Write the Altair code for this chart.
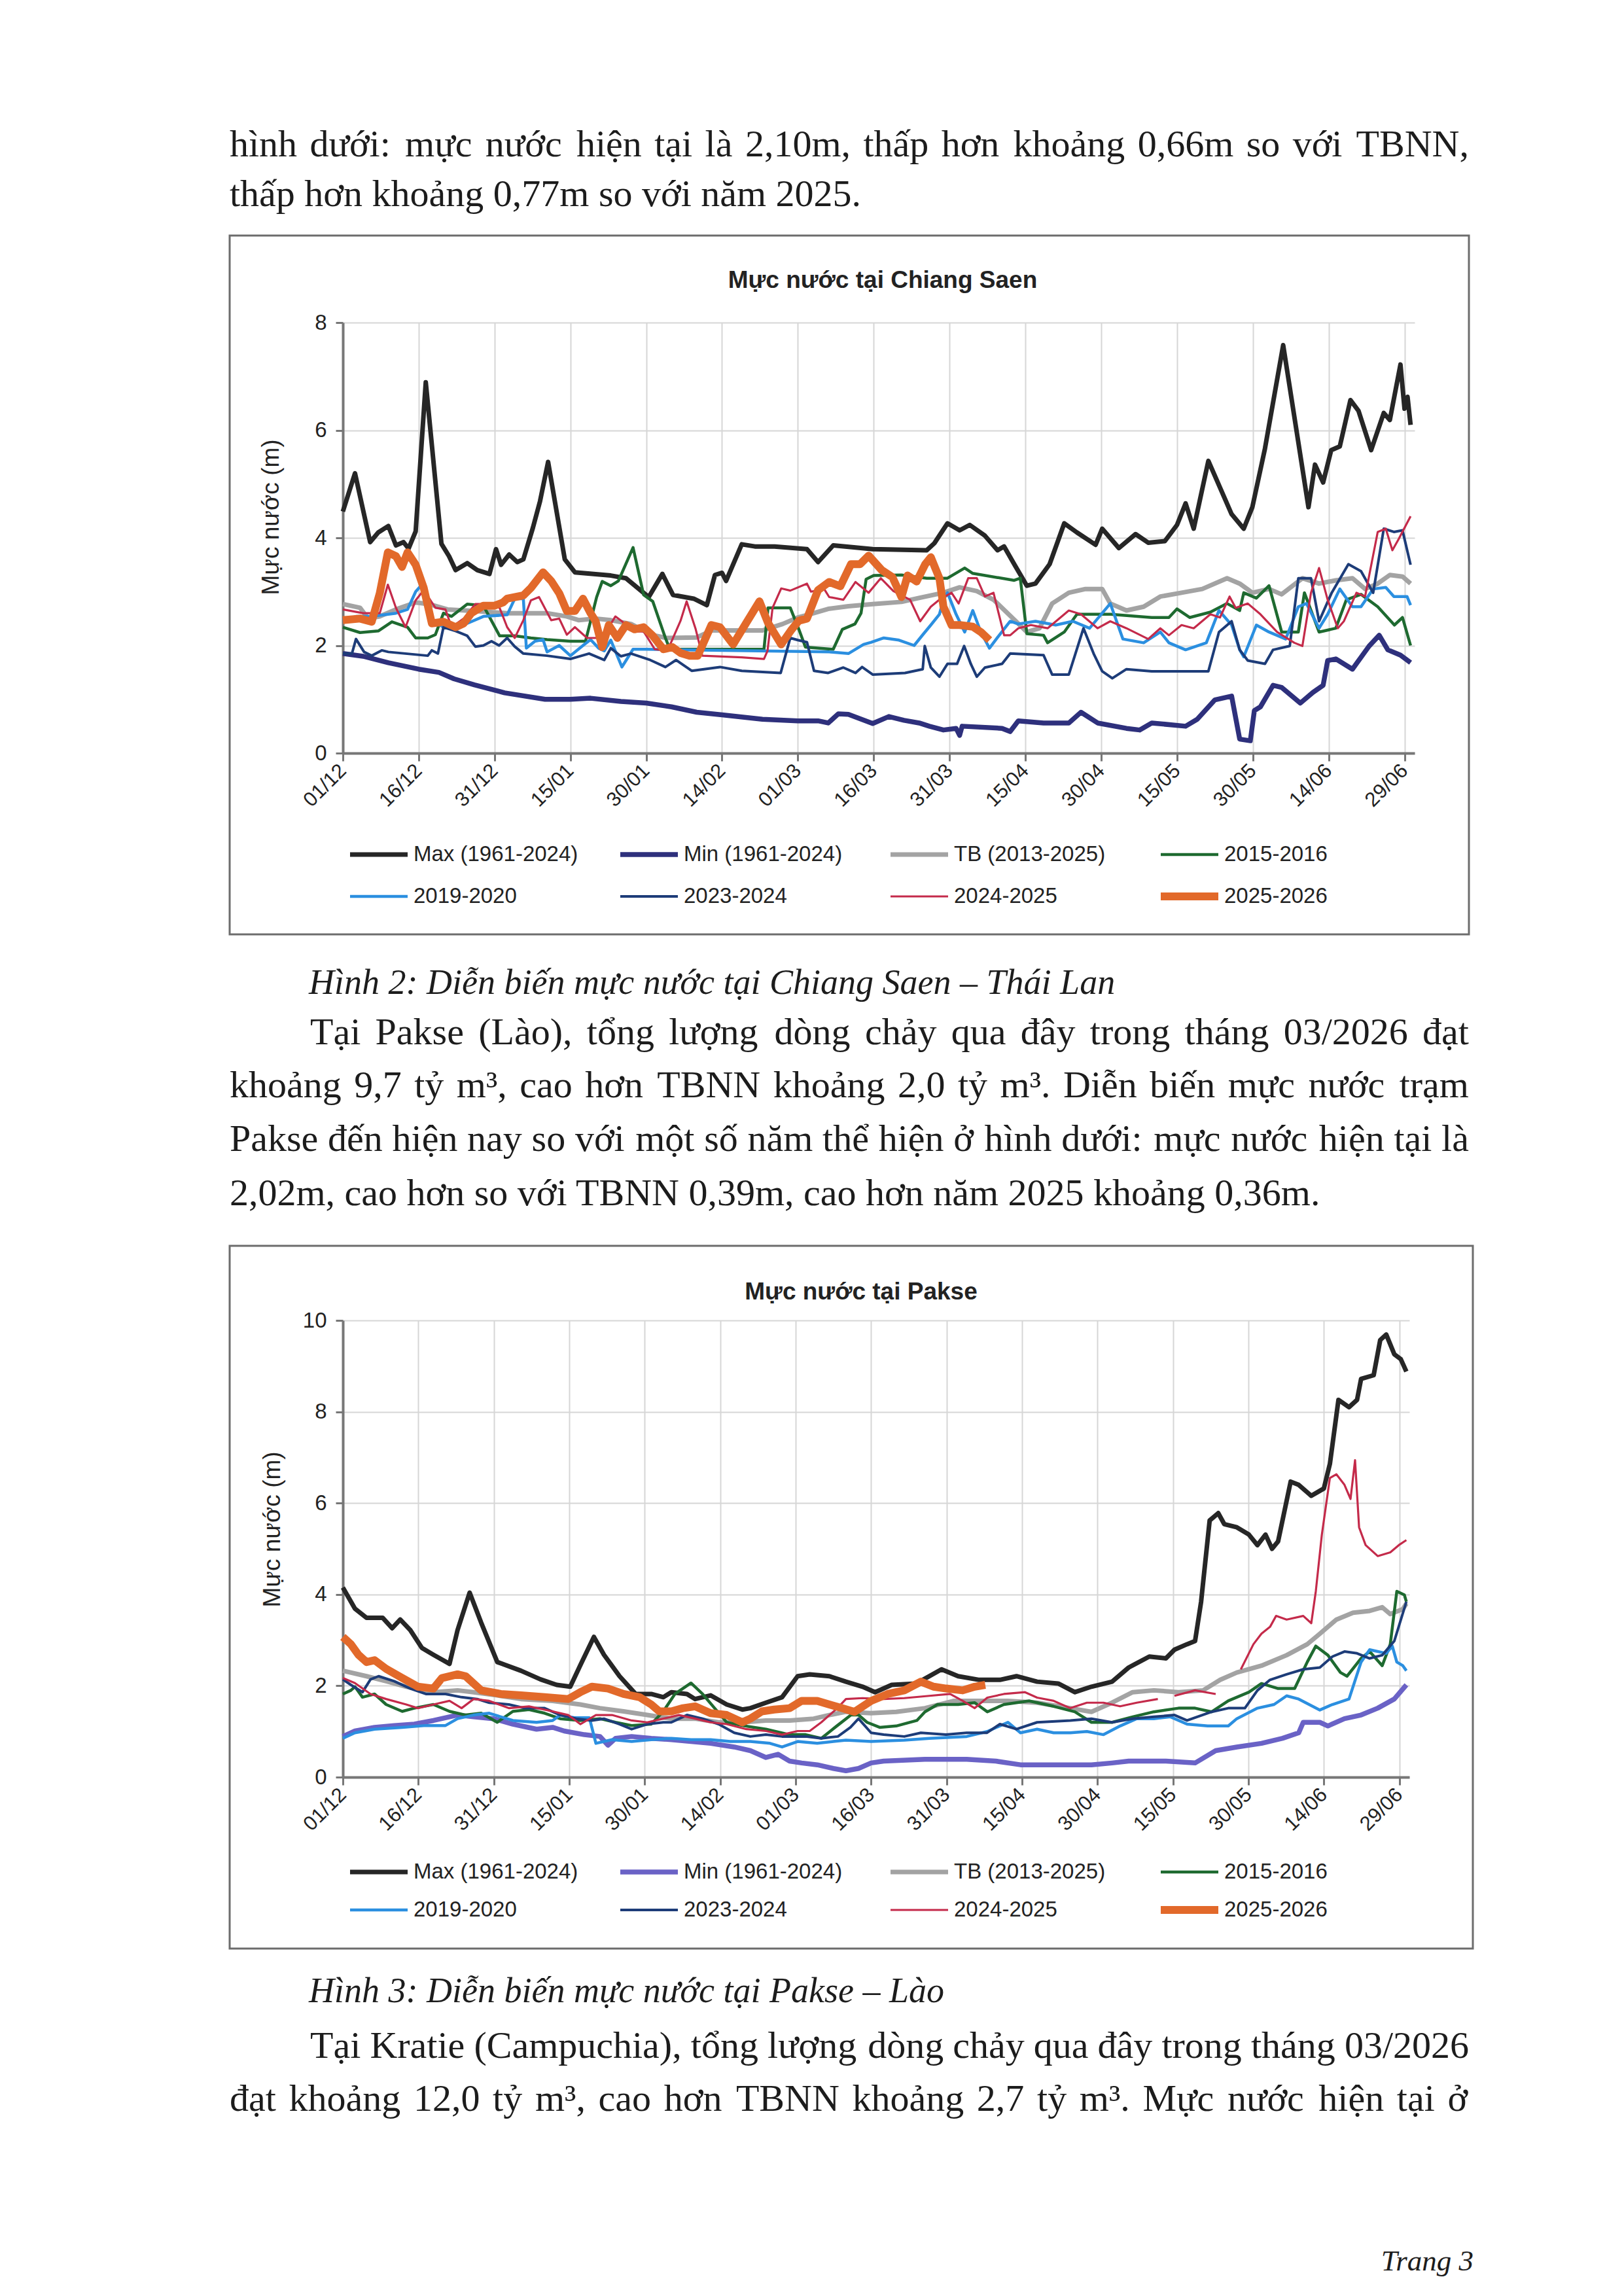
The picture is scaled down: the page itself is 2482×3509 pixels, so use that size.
import unicodedata
import pandas as pd
import altair as alt

# ---------------------------------------------------------------- data
X_TICKS = [0, 15, 30, 45, 60, 75, 90, 105, 120, 135, 150, 165, 180, 195, 210]
X_LABELS = ["01/12", "16/12", "31/12", "15/01", "30/01", "14/02", "01/03", "16/03",
            "31/03", "15/04", "30/04", "15/05", "30/05", "14/06", "29/06"]
SERIES = ["Max (1961-2024)", "Min (1961-2024)", "TB (2013-2025)", "2015-2016",
          "2019-2020", "2023-2024", "2024-2025", "2025-2026"]

# Chiang Saen: (day since 01/12, water level m)
CS_MAX = [(0, 4.49), (2.4, 5.2), (5.4, 3.92), (7, 4.1), (9, 4.22), (10.5, 3.86), (12, 3.92), (13, 3.8),
          (14.4, 4.12), (16.4, 6.89), (19.5, 3.89), (21, 3.66), (22.3, 3.4), (24.6, 3.53), (26.6, 3.4),
          (29, 3.33), (30.3, 3.79), (31.3, 3.5), (32.9, 3.69), (34.5, 3.55), (35.7, 3.6), (37.6, 4.19),
          (39, 4.68), (40.6, 5.41), (43.9, 3.6), (45.9, 3.36), (53, 3.3), (56, 3.25), (60.5, 2.9),
          (63.2, 3.33), (65.3, 2.94), (69.4, 2.87), (72, 2.75), (73.6, 3.31), (75, 3.35), (75.8, 3.2),
          (78.9, 3.88), (81.5, 3.84), (85.4, 3.84), (91.8, 3.79), (94, 3.55), (97, 3.86), (104.8, 3.79),
          (115.5, 3.77), (117, 3.9), (119.6, 4.27), (122, 4.14), (124, 4.24), (127, 4.04), (129.5, 3.77),
          (130.8, 3.84), (132.8, 3.51), (135.3, 3.11), (137, 3.15), (139.8, 3.51), (142.7, 4.27),
          (145.2, 4.1), (148.9, 3.87), (150.2, 4.17), (153.5, 3.81), (156.8, 4.07), (159.3, 3.91),
          (162.6, 3.94), (165, 4.24), (166.7, 4.64), (168.3, 4.17), (171.2, 5.43), (175.8, 4.44),
          (178.2, 4.17), (179.9, 4.57), (182.4, 5.66), (186, 7.58), (191, 4.57), (192.3, 5.36),
          (193.9, 5.03), (195.5, 5.63), (197.2, 5.7), (199.3, 6.56), (200.9, 6.36), (203.4, 5.63),
          (205.9, 6.32), (207.1, 6.19), (209.2, 7.22), (210, 6.4), (210.6, 6.62), (211.2, 6.1)]
CS_MIN = [(0, 1.85), (4, 1.8), (9, 1.68), (15, 1.56), (19, 1.5), (22, 1.38), (26, 1.27), (32, 1.12),
          (40, 1.0), (45, 1.0), (49, 1.02), (55, 0.96), (60, 0.93), (65, 0.86), (70, 0.76), (75, 0.71),
          (83, 0.63), (90, 0.6), (94, 0.6), (96, 0.56), (98, 0.73), (100, 0.72), (104.8, 0.55),
          (108, 0.68), (111, 0.61), (114, 0.56), (116, 0.5), (118.8, 0.43), (121.3, 0.46), (122, 0.33),
          (122.5, 0.5), (130.4, 0.46), (132, 0.4), (133.6, 0.6), (138.6, 0.56), (143.6, 0.56),
          (146, 0.76), (149.3, 0.56), (155, 0.46), (157.6, 0.43), (160, 0.56), (166.7, 0.5),
          (169, 0.63), (172.5, 0.99), (175.8, 1.06), (176.6, 0.66), (177.4, 0.26), (179.5, 0.23),
          (180.3, 0.79), (181.5, 0.86), (184, 1.26), (185.7, 1.22), (189.4, 0.93), (191.9, 1.13),
          (193.9, 1.26), (194.8, 1.72), (196.4, 1.75), (199.7, 1.56), (203, 1.99), (205, 2.19),
          (206.7, 1.92), (209.2, 1.82), (211.2, 1.68)]
CS_TB = [(0, 2.77), (3.4, 2.7), (5, 2.5), (7.3, 2.54), (10.5, 2.67), (14.4, 2.8), (17, 2.77),
         (20.7, 2.67), (26, 2.64), (32.5, 2.6), (40.4, 2.6), (44.3, 2.54), (46.7, 2.47), (50, 2.5),
         (53, 2.47), (57, 2.4), (61, 2.2), (64, 2.14), (70, 2.15), (73, 2.28), (83, 2.28), (87, 2.4),
         (90, 2.52), (92, 2.57), (96, 2.68), (100, 2.73), (104.8, 2.77), (110.5, 2.81), (113.8, 2.88),
         (118.8, 2.98), (122, 3.08), (125.4, 3.01), (128.7, 2.85), (132.8, 2.48), (135.3, 2.25),
         (137.8, 2.32), (140.3, 2.78), (143.6, 2.98), (146.9, 3.05), (150.2, 3.05), (151.8, 2.78),
         (155, 2.65), (158.4, 2.72), (161.7, 2.91), (165.9, 2.98), (170, 3.05), (174.9, 3.25),
         (177.4, 3.15), (179.9, 2.98), (183.2, 3.05), (185.7, 2.95), (189.8, 3.25), (193.1, 3.15),
         (196.4, 3.21), (199.7, 3.25), (202.2, 3.05), (204.7, 3.15), (207.1, 3.31), (209.6, 3.28),
         (211.2, 3.15)]
CS_1516 = [(0, 2.34), (3.4, 2.24), (7, 2.27), (9.7, 2.44), (12.8, 2.34), (14.4, 2.14), (16.8, 2.14),
           (18.3, 2.2), (19.9, 2.6), (21.5, 2.54), (24.6, 2.77), (27.8, 2.74), (31, 2.18), (34, 2.18),
           (37.2, 2.14), (40.4, 2.11), (45, 2.08), (48, 2.08), (50.2, 2.9), (51.3, 3.19), (53, 3.11),
           (54.5, 3.2), (57.4, 3.82), (59.5, 2.94), (61.3, 2.82), (63.8, 2.14), (64.7, 1.93), (70, 1.93),
           (83.3, 1.93), (84.1, 2.7), (88.5, 2.7), (90.2, 2.3), (91.5, 1.97), (97, 1.93), (98.8, 2.3),
           (101.3, 2.4), (102.5, 2.6), (103.5, 3.23), (105, 3.3), (110.5, 3.31), (115.5, 3.25),
           (119.6, 3.25), (123, 3.44), (124.6, 3.34), (132.8, 3.21), (134, 3.25), (135.3, 2.22),
           (138.6, 2.19), (139.4, 2.05), (142.7, 2.25), (145.2, 2.58), (151.8, 2.58), (160, 2.52),
           (163.4, 2.52), (165, 2.68), (167.5, 2.52), (171.6, 2.62), (174.9, 2.78), (177.4, 2.65),
           (178.2, 2.98), (180.7, 2.88), (183.2, 3.11), (185.7, 2.25), (189, 2.25), (190.2, 2.98),
           (193.1, 2.25), (196.4, 2.32), (198.5, 2.85), (201.4, 2.95), (204.7, 2.72), (208, 2.38),
           (209.6, 2.52), (211.2, 2.0)]
CS_1920 = [(0, 2.47), (2.6, 2.54), (5.7, 2.54), (10.5, 2.6), (12.8, 2.67), (14.4, 3.0), (16, 3.17),
           (17.6, 2.47), (19.9, 2.34), (24.6, 2.41), (27.8, 2.54), (32.5, 2.57), (34, 2.87), (35.7, 2.87),
           (36.3, 1.95), (38, 2.08), (39.6, 2.11), (40.4, 1.88), (42.8, 2.0), (45, 1.81), (47.5, 2.0),
           (49, 2.11), (50.6, 1.95), (51.7, 1.9), (53, 2.1), (55.2, 1.6), (57.4, 1.93), (60, 1.93),
           (96.2, 1.88), (100, 1.85), (103, 2.02), (104.5, 2.06), (107, 2.14), (110, 2.1), (113, 2.0),
           (114.8, 2.21), (116.3, 2.38), (118, 2.58), (118.8, 2.85), (119.6, 2.98), (121.3, 2.58),
           (123, 2.25), (124.6, 2.65), (126.2, 2.25), (127.9, 1.95), (129.5, 2.15), (132, 2.45),
           (133.6, 2.4), (137, 2.45), (141, 2.38), (144.4, 2.45), (147.7, 2.32), (151.8, 2.78),
           (154.3, 2.12), (158.4, 2.05), (161.7, 2.25), (163.4, 2.05), (166.7, 1.92), (170.8, 2.05),
           (173.3, 2.65), (175.8, 2.38), (177.4, 1.92), (178.2, 1.79), (180.7, 2.38), (183.2, 2.25),
           (186.5, 2.12), (189, 2.72), (190.6, 2.78), (193.1, 2.32), (194.8, 2.58), (197.2, 3.05),
           (199.7, 2.72), (201.4, 2.72), (203.8, 3.05), (206.3, 3.08), (207.9, 2.91), (210.5, 2.91),
           (211.2, 2.75)]
CS_2324 = [(0, 1.85), (1.8, 1.85), (2.6, 2.12), (4.2, 1.88), (5.7, 1.81), (7.7, 1.91), (9, 1.88),
           (16.8, 1.81), (17.6, 1.91), (18.8, 1.85), (19.9, 2.34), (22.3, 2.27), (24.6, 2.18),
           (26.2, 1.98), (27.8, 2.0), (29.4, 2.08), (30.9, 2.0), (32.5, 2.14), (34, 1.98), (35.7, 1.85),
           (40.4, 1.81), (45, 1.75), (48.7, 1.85), (51.7, 1.73), (53, 1.95), (55, 1.8), (57, 1.85),
           (60.8, 1.73), (63.8, 1.6), (65.9, 1.73), (69, 1.53), (74.6, 1.6), (78.9, 1.53), (86.6, 1.49),
           (88.5, 2.14), (90, 2.1), (91.8, 2.06), (93.2, 1.53), (96, 1.49), (99, 1.59), (101.4, 1.49),
           (102.7, 1.6), (104.8, 1.46), (111.2, 1.49), (114.7, 1.56), (115.1, 1.99), (116.3, 1.59),
           (118, 1.42), (119.6, 1.66), (121.5, 1.66), (122.9, 1.99), (124.2, 1.66), (125.4, 1.42),
           (127, 1.59), (130.4, 1.66), (132, 1.85), (138.6, 1.82), (140.3, 1.46), (143.6, 1.46),
           (146.5, 2.32), (148.5, 1.85), (150.2, 1.52), (152.2, 1.39), (155, 1.56), (160, 1.52),
           (171.2, 1.52), (173.3, 2.25), (175.8, 2.45), (177.4, 1.92), (179, 1.72), (182.4, 1.66),
           (184, 1.92), (187.3, 1.99), (189, 3.25), (191.5, 3.25), (193.1, 2.45), (195.6, 2.98),
           (198.9, 3.51), (201.4, 3.38), (203.8, 2.98), (205.9, 4.17), (207.9, 4.11), (209.6, 4.14),
           (211.2, 3.5)]
CS_2425 = [(0, 2.67), (4, 2.6), (7.3, 2.6), (8.9, 3.13), (10.5, 2.7), (12.4, 2.34), (14.4, 2.84),
           (16, 3.03), (18.3, 2.7), (20.3, 2.67), (21.5, 2.34), (23.9, 2.5), (26.2, 2.77), (28.6, 2.77),
           (31, 2.7), (32.5, 2.34), (34, 2.14), (35.7, 2.47), (37.2, 2.84), (38.8, 2.9), (41.2, 2.47),
           (42.8, 2.5), (44.3, 2.2), (45.9, 2.34), (48.3, 2.14), (51.3, 2.14), (53.9, 2.54), (55.2, 2.45),
           (57.4, 2.26), (59.5, 2.26), (61.7, 1.93), (64.2, 1.9), (66.8, 2.46), (68, 2.82), (69.8, 2.3),
           (71.1, 1.81), (78.9, 1.78), (83.3, 1.75), (84, 1.9), (85, 2.7), (86.7, 3.06), (88.5, 3.02),
           (91.8, 3.15), (92.6, 3.0), (95.2, 3.05), (96.2, 2.9), (99, 2.85), (101.4, 3.18), (104, 2.98),
           (106.4, 3.25), (108.9, 3.01), (112.2, 2.85), (114.2, 2.45), (116.3, 2.72), (118, 2.85),
           (120.4, 2.98), (121.8, 2.78), (123.7, 3.25), (125.4, 3.25), (127, 2.91), (128.7, 2.98),
           (130.8, 2.19), (132, 2.19), (133.6, 2.32), (136.1, 2.38), (139.4, 2.32), (143.6, 2.65),
           (146, 2.58), (149.3, 2.32), (151.8, 2.45), (155, 2.32), (159.3, 2.12), (161.7, 2.32),
           (163.4, 2.19), (165.9, 2.38), (168.3, 2.32), (171.6, 2.58), (173.5, 2.52), (175.4, 2.91),
           (176.6, 2.7), (179, 2.78), (181.5, 2.58), (184.8, 2.25), (188.2, 2.05), (189.8, 1.99),
           (191.5, 2.98), (193.1, 3.44), (194.8, 2.85), (196.8, 2.32), (198, 2.45), (200.5, 2.98),
           (202.2, 2.91), (204.7, 4.11), (206.3, 4.17), (207.6, 3.77), (208.8, 3.97), (211.2, 4.4)]
CS_2526 = [(0, 2.47), (3.4, 2.5), (5.7, 2.44), (7.3, 2.97), (8.9, 3.73), (10.5, 3.66), (11.7, 3.46),
           (12.8, 3.73), (14.4, 3.5), (16, 3.07), (17.6, 2.41), (19.9, 2.44), (22.3, 2.34), (23.9, 2.41),
           (25.4, 2.6), (27.8, 2.74), (30, 2.74), (31.7, 2.8), (32.5, 2.87), (35.7, 2.93), (37.2, 3.07),
           (39.6, 3.36), (41.2, 3.2), (42.8, 2.97), (44.3, 2.64), (45.9, 2.64), (47.5, 2.87), (49, 2.6),
           (50, 2.45), (51.3, 1.97), (52.6, 2.38), (54.3, 2.14), (56, 2.38), (57.7, 2.3), (59.5, 2.34),
           (61.3, 2.18), (63.4, 1.93), (65.2, 1.97), (66.8, 1.86), (68.5, 1.81), (70.2, 1.81),
           (72.9, 2.38), (74.6, 2.34), (77.2, 2.02), (79.8, 2.42), (82.4, 2.82), (84.1, 2.42),
           (86.7, 2.02), (88.8, 2.3), (90.2, 2.46), (91.8, 2.5), (94, 3.03), (96.2, 3.18), (98.4, 3.1),
           (100.5, 3.51), (102.3, 3.51), (104, 3.67), (106.6, 3.4), (108.7, 3.27), (110.5, 2.9),
           (111.7, 3.3), (113.5, 3.19), (115.2, 3.51), (116.3, 3.64), (118, 3.25), (118.8, 2.72),
           (120.4, 2.38), (122, 2.38), (124.6, 2.35), (126.2, 2.25), (127.9, 2.1)]

# Pakse
PK_MAX = [(0, 4.15), (2.4, 3.69), (4.7, 3.49), (7.9, 3.49), (9.8, 3.26), (11.4, 3.45), (13.4, 3.22),
          (15.7, 2.83), (18, 2.68), (21.2, 2.48), (22.8, 3.22), (25.2, 4.04), (27.5, 3.38), (30.7, 2.52),
          (35.4, 2.33), (39.3, 2.14), (42.5, 2.02), (45.2, 1.98), (47.2, 2.45), (49.9, 3.07),
          (51.9, 2.68), (55, 2.21), (58.2, 1.82), (61.3, 1.82), (63.7, 1.75), (65.3, 1.86), (68.4, 1.82),
          (70, 1.71), (73.1, 1.79), (76.3, 1.59), (79.4, 1.48), (81, 1.51), (84.1, 1.63), (87.3, 1.75),
          (90.4, 2.21), (92.8, 2.25), (96.7, 2.21), (100, 2.09), (103.3, 1.98), (105.8, 1.86),
          (109.1, 2.02), (114, 2.05), (119, 2.36), (122.3, 2.21), (126.5, 2.13), (130.6, 2.13),
          (133.9, 2.21), (138, 2.09), (142.2, 2.05), (145.5, 1.86), (148.8, 1.98), (152.9, 2.09),
          (156.2, 2.4), (160.3, 2.64), (163.6, 2.6), (165.3, 2.79), (167.8, 2.91), (169.4, 2.98),
          (170.6, 3.84), (172.3, 5.62), (174, 5.78), (175.2, 5.54), (177.7, 5.47), (180.1, 5.31),
          (181.8, 5.08), (183.4, 5.31), (184.7, 5.0), (185.9, 5.16), (188.4, 6.47), (190, 6.4),
          (192.5, 6.16), (195, 6.32), (196.2, 6.86), (197.9, 8.26), (200, 8.1), (201.6, 8.26),
          (202.4, 8.72), (204.9, 8.8), (206.2, 9.57), (207.4, 9.69), (209, 9.26), (210.3, 9.15),
          (211.4, 8.88)]
PK_MIN = [(0, 0.89), (2.4, 1.01), (6.3, 1.09), (10.2, 1.13), (14.2, 1.16), (18, 1.24), (22.8, 1.36),
          (26, 1.32), (29.9, 1.28), (33.8, 1.16), (38.5, 1.05), (41.7, 1.09), (44, 1.01), (48, 0.93),
          (51.1, 0.89), (52.7, 0.7), (54.2, 0.85), (57.4, 0.89), (61.3, 0.85), (65.3, 0.82),
          (69.2, 0.78), (73.1, 0.74), (77.8, 0.66), (81, 0.58), (84.1, 0.43), (86.5, 0.5), (88.8, 0.35),
          (91.2, 0.31), (94.3, 0.27), (97.5, 0.19), (100, 0.14), (102.5, 0.19), (105, 0.31),
          (107.5, 0.35), (115.7, 0.39), (124, 0.39), (129.8, 0.35), (134.7, 0.27), (140.5, 0.27),
          (148.8, 0.27), (152.9, 0.31), (156.2, 0.35), (163.6, 0.35), (169.4, 0.31), (173.5, 0.58),
          (177.7, 0.66), (182.6, 0.74), (186.8, 0.85), (190, 0.97), (190.9, 1.2), (194.2, 1.2),
          (195.8, 1.12), (199.1, 1.28), (202.4, 1.36), (205.7, 1.51), (209, 1.71), (211.4, 2.02)]
PK_TB = [(0, 2.33), (4.7, 2.21), (8.6, 2.1), (12.6, 1.98), (18, 1.86), (22.8, 1.9), (26, 1.86),
         (30.7, 1.79), (35.4, 1.71), (41.7, 1.67), (47.2, 1.59), (51.1, 1.51), (55.8, 1.44),
         (60.5, 1.36), (65.3, 1.28), (70, 1.28), (74.7, 1.2), (79.4, 1.2), (84.1, 1.24), (88.8, 1.24),
         (93.6, 1.28), (96.7, 1.36), (100, 1.43), (105, 1.4), (110, 1.43), (115.7, 1.51), (121.5, 1.67),
         (126.5, 1.67), (132.2, 1.67), (138, 1.63), (144.6, 1.51), (148.8, 1.43), (152.9, 1.63),
         (157, 1.86), (161.2, 1.9), (166.1, 1.86), (171, 1.9), (174.4, 2.13), (177.7, 2.29),
         (182.6, 2.44), (187.6, 2.67), (191.7, 2.91), (194.2, 3.14), (197.5, 3.45), (200.8, 3.6),
         (204.1, 3.64), (206.6, 3.72), (208.2, 3.57), (210.7, 3.68), (211.4, 3.8)]
PK_1516 = [(0, 1.82), (1.6, 1.9), (2.4, 1.98), (3.9, 1.75), (6.3, 1.82), (8.6, 1.59), (11.8, 1.44),
           (14.2, 1.51), (18, 1.59), (21.2, 1.44), (24.4, 1.36), (27.5, 1.4), (30.7, 1.2), (33.8, 1.44),
           (37, 1.48), (40.1, 1.4), (43.2, 1.28), (47.2, 1.24), (51.1, 1.28), (54.2, 1.2), (57.4, 1.13),
           (61.3, 1.16), (63.7, 1.44), (66, 1.82), (69.2, 2.06), (71.5, 1.82), (73.9, 1.51), (76.3, 1.2),
           (79.4, 1.13), (84.1, 1.05), (88.8, 0.93), (92, 0.93), (95.1, 0.85), (98.3, 1.13),
           (101, 1.36), (102.5, 1.36), (104.2, 1.2), (106.7, 1.09), (110, 1.12), (114.1, 1.24),
           (115.7, 1.43), (118.2, 1.59), (122.3, 1.59), (125.6, 1.63), (128.1, 1.43), (131.4, 1.59),
           (136.4, 1.67), (141.3, 1.55), (145.5, 1.43), (148.8, 1.2), (152.9, 1.2), (157, 1.32),
           (161.2, 1.43), (166.1, 1.51), (169.4, 1.51), (172.7, 1.43), (176, 1.67), (180.1, 1.86),
           (182.6, 2.05), (185.9, 1.94), (189.2, 1.94), (191.7, 2.52), (193.4, 2.87), (195.8, 2.67),
           (198.3, 2.29), (199.6, 2.21), (202.4, 2.6), (204.1, 2.75), (206.6, 2.44), (208.2, 2.91),
           (209.5, 4.07), (211, 3.99), (211.4, 3.84)]
PK_1920 = [(0, 0.85), (2.4, 0.97), (6.3, 1.05), (11.8, 1.09), (16.5, 1.13), (20.4, 1.13), (22.8, 1.28),
           (26, 1.36), (29.1, 1.4), (31.4, 1.32), (33.8, 1.24), (38.5, 1.2), (41.7, 1.24), (43.2, 1.36),
           (46, 1.3), (49, 1.3), (50.3, 0.74), (53.5, 0.82), (57.4, 0.78), (61.3, 0.82), (65.3, 0.85),
           (69.2, 0.82), (73.1, 0.82), (77, 0.78), (81, 0.78), (84.9, 0.74), (87.3, 0.66), (90.4, 0.78),
           (94.3, 0.74), (97.5, 0.78), (100, 0.81), (105, 0.78), (111.6, 0.81), (116.6, 0.85),
           (124, 0.89), (128.1, 1.0), (132.2, 1.2), (134.7, 0.97), (138, 1.05), (141.3, 0.97),
           (144.6, 0.97), (147.9, 1.0), (151.2, 0.93), (154.5, 1.12), (157.8, 1.28), (161.2, 1.28),
           (164.5, 1.32), (167.8, 1.16), (171.9, 1.12), (176, 1.12), (177.7, 1.28), (181.8, 1.51),
           (185.1, 1.59), (187.6, 1.78), (190, 1.71), (194.2, 1.47), (196.7, 1.59), (200, 1.71),
           (202.4, 2.52), (204.1, 2.79), (207.4, 2.71), (208.6, 2.87), (209.5, 2.52), (210.7, 2.44),
           (211.4, 2.33)]
PK_2324 = [(0, 2.14), (1.6, 2.02), (3.9, 1.86), (5.5, 2.14), (7.1, 2.21), (10.2, 2.1), (13.4, 1.94),
           (16.5, 1.82), (20.4, 1.82), (23.6, 1.75), (26.7, 1.71), (29.1, 1.63), (33, 1.59), (36.2, 1.51),
           (40.1, 1.51), (43.2, 1.36), (46.4, 1.28), (49.5, 1.24), (51.9, 1.28), (55, 1.16), (57.4, 1.05),
           (60.5, 1.16), (63.7, 1.2), (65.3, 1.2), (68.4, 1.36), (71.5, 1.28), (74.7, 1.16), (77.8, 0.97),
           (81, 0.89), (84.1, 0.93), (87.3, 0.89), (92, 0.89), (95.1, 0.85), (98.4, 0.89), (100.9, 1.09),
           (102.5, 1.28), (105, 0.97), (107.5, 0.93), (111.6, 0.89), (114.9, 0.97), (119.9, 0.93),
           (124, 0.97), (128, 0.97), (130.6, 1.16), (133.9, 1.05), (138, 1.2), (144.6, 1.24),
           (148.8, 1.28), (152.9, 1.2), (157, 1.28), (161.2, 1.32), (165.3, 1.36), (167.8, 1.24),
           (172.7, 1.43), (176, 1.51), (179.3, 1.51), (181.8, 1.9), (184.3, 2.13), (187.6, 2.25),
           (190.9, 2.36), (194.2, 2.4), (196.7, 2.64), (199.1, 2.75), (201.6, 2.71), (204.1, 2.6),
           (206.6, 2.67), (209, 2.98), (211.4, 3.84)]
PK_2425 = [(0, 2.17), (2.4, 2.06), (5.5, 1.82), (8.6, 1.71), (12.6, 1.59), (14.9, 1.51), (18, 1.59),
           (21.2, 1.67), (23.6, 1.51), (26, 1.71), (29.1, 1.67), (33, 1.51), (37, 1.55), (41.7, 1.44),
           (44.8, 1.36), (47.2, 1.16), (50.3, 1.36), (53.5, 1.36), (57.4, 1.24), (60.5, 1.2), (63.7, 1.28),
           (66.8, 1.36), (70, 1.28), (73.1, 1.2), (76.3, 1.16), (80.2, 1.05), (84.1, 1.01), (87.3, 0.93),
           (90.4, 1.01), (92.8, 1.01), (95.1, 1.2), (98.3, 1.51), (100, 1.71), (103.3, 1.73),
           (107.5, 1.71), (111.6, 1.73), (116.6, 1.78), (120.7, 1.82), (123.2, 1.67), (125.6, 1.51),
           (128.1, 1.74), (131.4, 1.82), (135.6, 1.86), (138, 1.74), (141.3, 1.67), (144.6, 1.51),
           (147.9, 1.63), (151.2, 1.63), (154.5, 1.55), (157.8, 1.63), (162, 1.71), (163.5, None),
           (165.3, 1.78), (169.4, 1.9), (173.5, 1.82), (176, None), (178.5, 2.36), (181, 2.91),
           (182.6, 3.14), (184.3, 3.29), (185.5, 3.53), (187.6, 3.45), (190.9, 3.53), (192.5, 3.37),
           (193.4, 4.07), (194.6, 5.31), (196.2, 6.55), (197.5, 6.63), (199.1, 6.4), (200.3, 6.09),
           (201.2, 6.94), (202, 5.47), (203.3, 5.08), (205.7, 4.84), (208.2, 4.92), (209.9, 5.08),
           (211.4, 5.19)]
PK_2526 = [(0, 3.07), (1.6, 2.91), (3.1, 2.68), (4.7, 2.52), (6.3, 2.56), (8.6, 2.37), (11.8, 2.17),
           (14.9, 1.98), (18, 1.94), (19.7, 2.17), (22.8, 2.25), (24.4, 2.21), (27.5, 1.9), (31.4, 1.82),
           (35.4, 1.79), (40.1, 1.75), (44.8, 1.71), (47.2, 1.86), (49.5, 1.98), (52.7, 1.94),
           (55.8, 1.82), (59, 1.75), (61.3, 1.59), (62.9, 1.44), (65.3, 1.44), (67.6, 1.51), (70, 1.55),
           (73.1, 1.4), (76.3, 1.36), (79.4, 1.2), (81, 1.28), (83.3, 1.44), (85.7, 1.48), (88.8, 1.51),
           (91.2, 1.67), (94.3, 1.67), (96.7, 1.59), (99.2, 1.51), (101.7, 1.43), (105, 1.67),
           (108.3, 1.82), (111.6, 1.9), (114.9, 2.09), (117.4, 1.98), (119.9, 1.94), (123.2, 1.9),
           (125.6, 1.98), (127.7, 2.02)]

CS_DATA = [CS_MAX, CS_MIN, CS_TB, CS_1516, CS_1920, CS_2324, CS_2425, CS_2526]
PK_DATA = [PK_MAX, PK_MIN, PK_TB, PK_1516, PK_1920, PK_2324, PK_2425, PK_2526]

CS_COLORS = ["#262626", "#2E307C", "#A3A3A3", "#1E6A30", "#2B8FE0", "#1D3C78", "#C42A4A", "#E2692A"]
PK_COLORS = ["#262626", "#6A62C6", "#A3A3A3", "#1E6A30", "#2B8FE0", "#1D3C78", "#C42A4A", "#E2692A"]
LINE_WIDTHS = [7, 7.5, 7, 4.5, 4.5, 4, 3.2, 12]

TITLE_CS = "Mực nước tại Chiang Saen"
TITLE_PK = "Mực nước tại Pakse"
Y_TITLE = "Mực nước (m)"

TEXT_TOP = ["hình dưới: mực nước hiện tại là 2,10m, thấp hơn khoảng 0,66m so với TBNN,",
            "thấp hơn khoảng 0,77m so với năm 2025."]
CAPTION_1 = "Hình 2: Diễn biến mực nước tại Chiang Saen – Thái Lan"
TEXT_MID = ["Tại Pakse (Lào), tổng lượng dòng chảy qua đây trong tháng 03/2026 đạt",
            "khoảng 9,7 tỷ m³, cao hơn TBNN khoảng 2,0 tỷ m³. Diễn biến mực nước trạm",
            "Pakse đến hiện nay so với một số năm thể hiện ở hình dưới: mực nước hiện tại là",
            "2,02m, cao hơn so với TBNN 0,39m, cao hơn năm 2025 khoảng 0,36m."]
CAPTION_2 = "Hình 3: Diễn biến mực nước tại Pakse – Lào"
TEXT_BOT = ["Tại Kratie (Campuchia), tổng lượng dòng chảy qua đây trong tháng 03/2026",
            "đạt khoảng 12,0 tỷ m³, cao hơn TBNN khoảng 2,7 tỷ m³. Mực nước hiện tại ở"]
PAGE_NO = "Trang 3"

# ---------------------------------------------------------------- helpers
SERIF = "Liberation Serif"
SANS = "Liberation Sans"
INK = "#1c1c1c"
BODY = 58
CAP = 54

TNR = {' ': 250, ',': 250, '.': 250, ':': 278, ';': 278, '(': 333, ')': 333, '/': 278, '-': 333,
       '–': 500, '³': 300, 'đ': 500, 'Đ': 722}
for ch in "0123456789":
    TNR[ch] = 500
TNR.update(dict(zip("abcdefghijklmnopqrstuvwxyz",
                    [444, 500, 444, 500, 444, 333, 500, 500, 278, 278, 500, 278, 778, 500, 500, 500,
                     500, 333, 389, 278, 500, 500, 722, 500, 500, 444])))
TNR.update(dict(zip("ABCDEFGHIJKLMNOPQRSTUVWXYZ",
                    [722, 667, 667, 722, 611, 556, 722, 722, 333, 389, 722, 611, 889, 722, 722, 556,
                     722, 667, 556, 611, 722, 722, 944, 722, 722, 611])))


def text_width(s, size):
    total = 0
    for ch in s:
        if ch in TNR:
            total += TNR[ch]
            continue
        dec = unicodedata.normalize("NFD", ch)
        w = TNR.get(dec[0], 500)
        if "\u031b" in dec:
            w += 60
        total += w
    return total / 1000.0 * size


def justified(line, x0, x1, y, size):
    words = line.split(" ")
    widths = [text_width(w, size) for w in words]
    gap = (x1 - x0 - sum(widths)) / (len(words) - 1)
    rows, x = [], x0
    for w, wd in zip(words, widths):
        rows.append({"x": x, "y": y, "t": w})
        x += wd + gap
    return rows


def text_layer(rows, size, style="normal", align="left"):
    return alt.Chart(pd.DataFrame(rows)).mark_text(
        align=align, baseline="alphabetic", font=SERIF, fontSize=size, fontStyle=style, color=INK
    ).encode(x=alt.X("x:Q", scale=None, axis=None), y=alt.Y("y:Q", scale=None, axis=None), text="t:N")


def page_block(height, layers):
    bg = alt.Chart(pd.DataFrame({"a": [0]})).mark_rect(color="white").encode(
        x=alt.value(-516), x2=alt.value(1950), y=alt.value(0), y2=alt.value(height))
    return alt.layer(bg, *layers).properties(width=1950, height=height)


def series_df(name, pts):
    rows, seg = [], 0
    for d, v in pts:
        if v is None:
            seg += 1
            continue
        rows.append({"day": d, "level": v, "series": name, "seg": seg})
    return pd.DataFrame(rows)


LABEL_EXPR = "[" + ",".join("'%s'" % s for s in X_LABELS) + "][round(datum.value / 15)]"


def station_chart(title, data, colors, ymax, width, height, frame, title_xy, ytitle_y, ytitle_x,
                  legend_xy, row_pad):
    x_enc = alt.X("day:Q", scale=alt.Scale(domain=[0, 212], nice=False, zero=False),
                  axis=alt.Axis(values=X_TICKS, labelExpr=LABEL_EXPR, labelAngle=315, labelAlign="right",
                                labelBaseline="middle", labelFont=SANS, labelFontSize=31, labelColor="#222",
                                labelPadding=10, labelFlush=False, labelOverlap=False, tickSize=12,
                                tickColor="#777", tickWidth=3, domainColor="#777", domainWidth=4,
                                grid=True, gridColor="#d6d6d6", gridWidth=2, title=None))
    y_enc = alt.Y("level:Q", scale=alt.Scale(domain=[0, ymax], nice=False, zero=True),
                  axis=alt.Axis(values=list(range(0, ymax + 1, 2)), labelFont=SANS, labelFontSize=33,
                                labelColor="#222", labelPadding=14, tickSize=11, tickColor="#777",
                                tickWidth=3, domainColor="#777", domainWidth=4, grid=True,
                                gridColor="#d6d6d6", gridWidth=2, title=Y_TITLE, titleFont=SANS,
                                titleFontSize=37, titleFontWeight="normal", titleColor="#222",
                                titleAngle=270, titleAlign="center", titleBaseline="middle",
                                titleX=ytitle_x, titleY=ytitle_y))
    legend = alt.Legend(orient="none", legendX=legend_xy[0], legendY=legend_xy[1], columns=4,
                        direction="horizontal", symbolType="stroke", symbolSize=7744, clipHeight=36,
                        rowPadding=row_pad, columnPadding=58, gridAlign="all", labelFont=SANS,
                        labelFontSize=33, labelColor="#222", labelOffset=3, labelLimit=500, padding=0,
                        title=None)
    color = alt.Color("series:N", scale=alt.Scale(domain=SERIES, range=colors), legend=legend)
    swidth = alt.StrokeWidth("series:N",
                             scale=alt.Scale(type="ordinal", domain=SERIES, range=LINE_WIDTHS),
                             legend=legend)

    one = pd.DataFrame({"t": [title]})
    frame_layer = alt.Chart(one).mark_rect(filled=False, stroke="#6c6c6c", strokeWidth=3).encode(
        x=alt.value(frame[0]), x2=alt.value(frame[1]), y=alt.value(frame[2]), y2=alt.value(frame[3]))
    title_layer = alt.Chart(one).mark_text(font=SANS, fontSize=37, fontWeight="bold", color="#222",
                                           align="center", baseline="middle").encode(
        x=alt.value(title_xy[0]), y=alt.value(title_xy[1]), text="t:N")
    layers = [frame_layer, title_layer]
    for name, pts, w in zip(SERIES, data, LINE_WIDTHS):
        layers.append(alt.Chart(series_df(name, pts)).mark_line(strokeJoin="round", strokeWidth=w).encode(
            x=x_enc, y=y_enc, color=color, strokeWidth=swidth, detail="seg:N"))
    return alt.layer(*layers).properties(width=width, height=height)


# ---------------------------------------------------------------- page pieces
top_rows1 = justified(TEXT_TOP[0], -173, 1721, 231, BODY)
top_rows2 = [{"x": -173, "y": 307, "t": TEXT_TOP[1]}]
block_a = page_block(350, [text_layer(top_rows1, BODY), text_layer(top_rows2, BODY)])

chart_cs = station_chart(TITLE_CS, CS_DATA, CS_COLORS, 8, 1638, 658,
                         frame=(-173, 1721, -133, 935), title_xy=(825, -64), ytitle_y=297, ytitle_x=-110,
                         legend_xy=(5, 795), row_pad=28)

mid_rows = (justified(TEXT_MID[0], -50, 1721, 166, BODY) + justified(TEXT_MID[1], -173, 1721, 247, BODY)
            + justified(TEXT_MID[2], -173, 1721, 329, BODY))
block_c = page_block(472, [
    text_layer([{"x": -52, "y": 89, "t": CAPTION_1}], CAP, "italic"),
    text_layer(mid_rows, BODY),
    text_layer([{"x": -173, "y": 412, "t": TEXT_MID[3]}], BODY)])

chart_pk = station_chart(TITLE_PK, PK_DATA, PK_COLORS, 10, 1630, 698,
                         frame=(-173, 1727, -114, 960), title_xy=(792, -43), ytitle_y=319, ytitle_x=-108,
                         legend_xy=(5, 825), row_pad=22)

bot_rows = justified(TEXT_BOT[0], -50, 1721, 165, BODY) + justified(TEXT_BOT[1], -173, 1721, 246, BODY)
block_e = page_block(529, [
    text_layer([{"x": -52, "y": 80, "t": CAPTION_2}], CAP, "italic"),
    text_layer(bot_rows, BODY),
    text_layer([{"x": 1728, "y": 490, "t": PAGE_NO}], 45, "italic", "right")])

chart = alt.vconcat(block_a, chart_cs, block_c, chart_pk, block_e, spacing=0).resolve_scale(
    color="independent", strokeWidth="independent").resolve_legend(
    color="independent", strokeWidth="independent").properties(
    padding=0, background="white").configure_view(strokeWidth=0)

chart.save("out.html", embed_options={"renderer": "svg", "actions": False})
